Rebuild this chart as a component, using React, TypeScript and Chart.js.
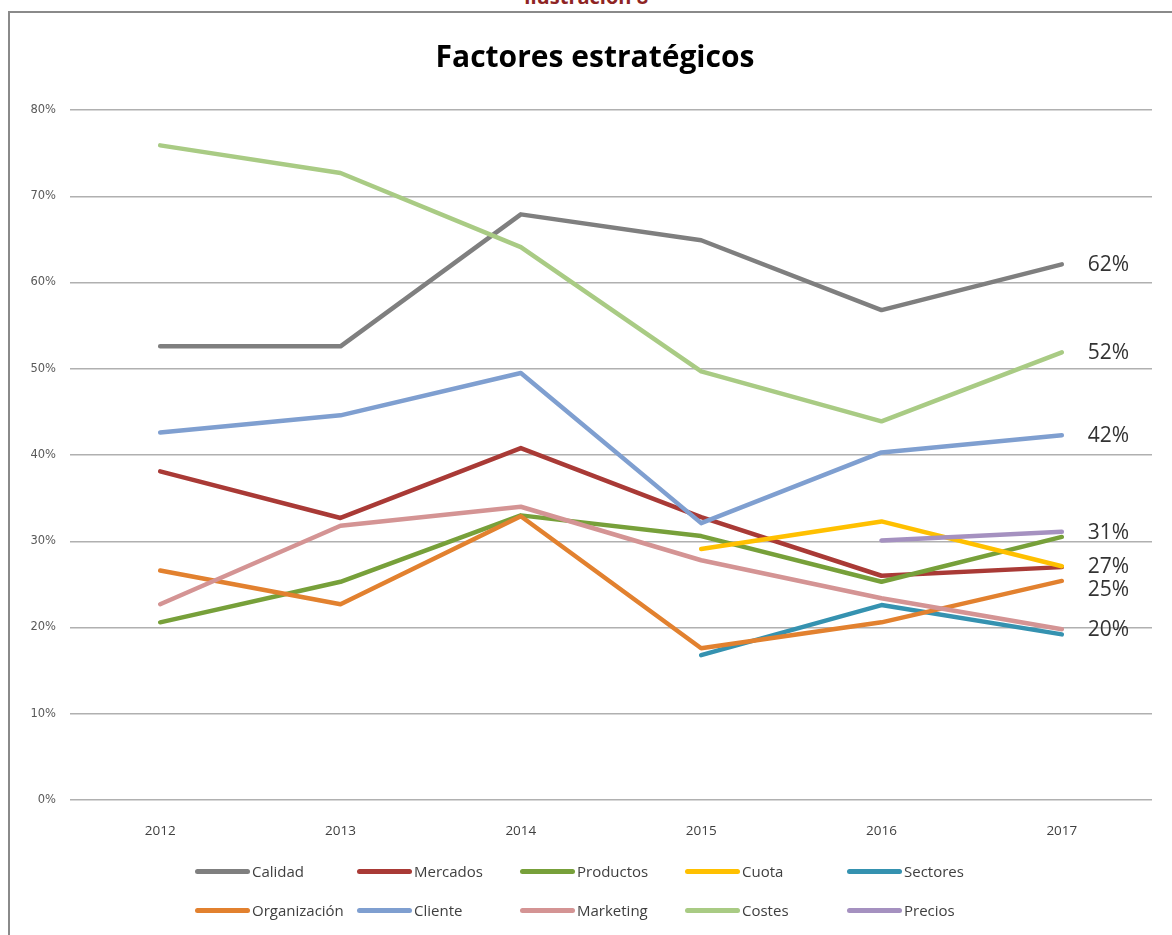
import React, { useEffect, useRef } from "react";
import { Chart, registerables } from "chart.js";

Chart.register(...registerables);

const years = ["2012", "2013", "2014", "2015", "2016", "2017"];

const calidad = [52.6, 52.6, 67.9, 64.9, 56.8, 62.1];
const mercados = [38.1, 32.7, 40.8, 32.8, 26.0, 27.0];
const productos = [20.6, 25.3, 33.0, 30.6, 25.3, 30.5];
const cuota = [null, null, null, 29.1, 32.3, 27.1];
const sectores = [null, null, null, 16.8, 22.6, 19.2];
const organizacion = [26.6, 22.7, 32.9, 17.6, 20.6, 25.4];
const cliente = [42.6, 44.6, 49.5, 32.1, 40.3, 42.3];
const marketing = [22.7, 31.8, 34.0, 27.8, 23.4, 19.8];
const costes = [75.9, 72.7, 64.1, 49.7, 43.9, 51.9];
const precios = [null, null, null, null, 30.1, 31.1];

const seriesNames = [
  "Calidad",
  "Mercados",
  "Productos",
  "Cuota",
  "Sectores",
  "Organización",
  "Cliente",
  "Marketing",
  "Costes",
  "Precios",
];
const seriesValues = [
  calidad,
  mercados,
  productos,
  cuota,
  sectores,
  organizacion,
  cliente,
  marketing,
  costes,
  precios,
];
const seriesColors = [
  "#7f7f7f",
  "#a93a36",
  "#77a03a",
  "#ffc000",
  "#3592b0",
  "#e2812f",
  "#7f9fd0",
  "#d49494",
  "#a9cb84",
  "#a591c0",
];

const yTicks = [0, 10, 20, 30, 40, 50, 60, 70, 80];

const endLabelSeries = ["Calidad", "Costes", "Cliente", "Precios", "Cuota", "Organización", "Marketing"];
const endLabelText = ["62%", "52%", "42%", "31%", "27%", "25%", "20%"];

const chartTitle = "Factores estratégicos";
const topCaption = "Ilustración 8";

const legendCols = [195, 357, 520, 685, 847];
const legendRows = [871, 910];

const endLabelsPlugin = {
  id: "endLabels",
  afterDatasetsDraw(chart: any) {
    const ctx = chart.ctx;
    const items: { x: number; y: number; text: string }[] = [];
    endLabelSeries.forEach((name, k) => {
      const idx = chart.data.datasets.findIndex((d: any) => d.label === name);
      if (idx < 0) return;
      const meta = chart.getDatasetMeta(idx);
      const pt = meta.data[meta.data.length - 1];
      if (!pt) return;
      items.push({ x: pt.x + 26, y: pt.y, text: endLabelText[k] });
    });
    items.sort((a, b) => a.y - b.y);
    for (let i = 1; i < items.length; i++) {
      if (items[i].y - items[i - 1].y < 23) items[i].y = items[i - 1].y + 23;
    }
    ctx.save();
    ctx.font = "21px 'Open Sans'";
    ctx.fillStyle = "#333333";
    ctx.textAlign = "left";
    ctx.textBaseline = "middle";
    items.forEach((it) => ctx.fillText(it.text, it.x, it.y + 1));
    ctx.restore();
  },
};

const titlePlugin = {
  id: "customTitle",
  afterDraw(chart: any) {
    const ctx = chart.ctx;
    ctx.save();
    ctx.font = "bold 30px 'Open Sans'";
    ctx.fillStyle = "#000000";
    ctx.textAlign = "center";
    ctx.textBaseline = "middle";
    ctx.fillText(chartTitle, chart.width / 2 + 4, 45);
    ctx.restore();
  },
};

export default function App() {
  const canvasRef = useRef<HTMLCanvasElement | null>(null);

  useEffect(() => {
    if (!canvasRef.current) return;
    const chart = new Chart(canvasRef.current, {
      type: "line",
      data: {
        labels: years,
        datasets: seriesNames.map((name, i) => ({
          label: name,
          data: seriesValues[i] as any,
          borderColor: seriesColors[i],
          backgroundColor: seriesColors[i],
          borderWidth: 4.5,
          pointRadius: 0,
          pointHoverRadius: 0,
          tension: 0,
          fill: false,
          spanGaps: false,
          borderJoinStyle: "round",
          borderCapStyle: "round",
          order: 20 - i,
        })),
      },
      options: {
        responsive: false,
        animation: false,
        events: [],
        layout: { padding: { left: 0, right: 20, top: 97, bottom: 0 } },
        plugins: {
          legend: { display: false },
          tooltip: { enabled: false },
          title: { display: false },
        },
        scales: {
          x: {
            type: "category",
            offset: true,
            grid: { display: false },
            border: { display: false },
            ticks: {
              color: "#404040",
              font: { family: "'Open Sans'", size: 13.5 },
              padding: 15,
            },
            afterFit: (s: any) => {
              s.height = 135;
            },
          },
          y: {
            min: 0,
            max: 80,
            afterBuildTicks: (s: any) => {
              s.ticks = yTicks.map((v) => ({ value: v }));
            },
            ticks: {
              color: "#595959",
              font: { family: "'DejaVu Sans'", size: 11.5 },
              padding: 14,
              callback: (v: any) => v + "%",
            },
            grid: { color: "#b0b0b0", lineWidth: 1.5, drawTicks: false },
            border: { display: false },
            afterFit: (s: any) => {
              s.width = 60;
            },
          },
        },
      } as any,
      plugins: [endLabelsPlugin, titlePlugin],
    });
    return () => chart.destroy();
  }, []);

  return (
    <div
      style={{
        position: "fixed",
        left: 0,
        top: 0,
        width: 1172,
        height: 935,
        overflow: "hidden",
        background: "#ffffff",
      }}
    >
      <div
        style={{
          position: "absolute",
          left: 0,
          width: 1172,
          top: -14,
          textAlign: "center",
          fontFamily: "'Open Sans'",
          fontWeight: "bold",
          fontSize: 20,
          lineHeight: "22px",
          color: "#8e2424",
        }}
      >
        {topCaption}
      </div>
      <div
        style={{
          position: "absolute",
          left: 8,
          top: 11,
          width: 1200,
          height: 1000,
          border: "2px solid #8a8a8a",
          boxSizing: "border-box",
        }}
      />
      <canvas
        ref={canvasRef}
        width={1162}
        height={922}
        style={{ position: "absolute", left: 10, top: 13, width: 1162, height: 922 }}
      />
      {seriesNames.map((name, i) => (
        <div
          key={name}
          style={{
            position: "absolute",
            left: legendCols[i % 5],
            top: legendRows[Math.floor(i / 5)] - 11,
            height: 22,
            display: "flex",
            alignItems: "center",
            whiteSpace: "nowrap",
          }}
        >
          <div
            style={{
              width: 55,
              height: 5,
              borderRadius: 2.5,
              background: seriesColors[i],
            }}
          />
          <span
            style={{
              marginLeft: 2,
              fontFamily: "'Open Sans'",
              fontSize: 15,
              color: "#404040",
            }}
          >
            {name}
          </span>
        </div>
      ))}
    </div>
  );
}
